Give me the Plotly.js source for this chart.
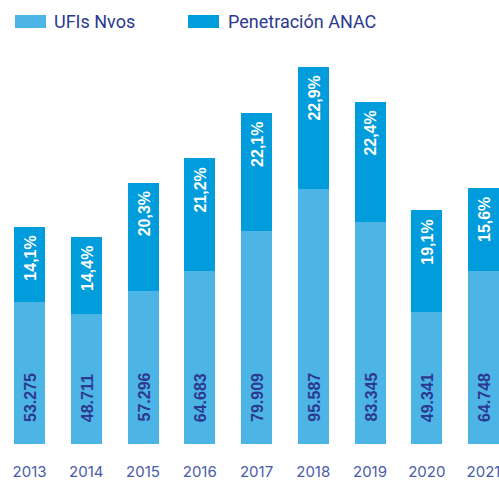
<!DOCTYPE html>
<html>
<head>
<meta charset="utf-8">
<script src="https://cdn.plot.ly/plotly-3.0.1.min.js"></script>
<style>html,body{margin:0;padding:0;background:#fff;}#chart{width:499px;height:481px;}</style>
</head>
<body>
<div id="chart"></div>
<script>
// Data
var years = ["2013","2014","2015","2016","2017","2018","2019","2020","2021"];
var ufisNvos = [53.275, 48.711, 57.296, 64.683, 79.909, 95.587, 83.345, 49.341, 64.748]; // thousands
var ufisLabels = ["53.275","48.711","57.296","64.683","79.909","95.587","83.345","49.341","64.748"];
var penetracion = [14.1, 14.4, 20.3, 21.2, 22.1, 22.9, 22.4, 19.1, 15.6]; // %
var penLabels = ["14,1%","14,4%","20,3%","21,2%","22,1%","22,9%","22,4%","19,1%","15,6%"];

var PCT_SCALE = 2.0; // visual height units per percentage point on the stacked axis
var penHeight = penetracion.map(function(p){ return p * PCT_SCALE; });

var lightBlue = "#4db4e6";
var darkBlue = "#009cdc";
var navy = "#2b3990";

var xs = years.map(function(_, i){ return i; });

var traces = [
  {type:"bar", name:"UFIs Nvos", x: xs, y: ufisNvos, marker:{color: lightBlue}, hoverinfo:"none"},
  {type:"bar", name:"Penetración ANAC", x: xs, y: penHeight, marker:{color: darkBlue}, hoverinfo:"none"}
];

var annotations = [];
xs.forEach(function(x, i){
  annotations.push({x: x, y: 0, xref:"x", yref:"y", text: ufisLabels[i], showarrow:false,
    textangle:-90, xanchor:"center", yanchor:"bottom", yshift: 20, xshift: 1,
    font:{family:"Liberation Sans, Arial, sans-serif", size:16, color: navy, weight:700}});
  annotations.push({x: x, y: ufisNvos[i] + penHeight[i], xref:"x", yref:"y", text: penLabels[i], showarrow:false,
    textangle:-90, xanchor:"center", yanchor:"top", yshift: -7, xshift: 1,
    font:{family:"Liberation Sans, Arial, sans-serif", size:16, color: "#ffffff", weight:700}});
});

// Legend (manual)
function py(p){ return (444 - p) / 384; }
var shapes = [
  {type:"rect", xref:"paper", yref:"paper", x0:15/499, x1:46/499, y0:py(28), y1:py(15), fillcolor: lightBlue, line:{width:0}},
  {type:"rect", xref:"paper", yref:"paper", x0:188/499, x1:219/499, y0:py(28), y1:py(15), fillcolor: darkBlue, line:{width:0}}
];
annotations.push({xref:"paper", yref:"paper", x:52/499, y:py(21), text:"UFIs Nvos", showarrow:false,
  xanchor:"left", yanchor:"middle", font:{family:"Roboto, sans-serif", size:18, color: navy}});
annotations.push({xref:"paper", yref:"paper", x:226/499, y:py(21), text:"Penetración ANAC", showarrow:false,
  xanchor:"left", yanchor:"middle", font:{family:"Roboto, sans-serif", size:18, color: navy}});

var layout = {
  width: 499, height: 481,
  margin: {l:0, r:0, t:60, b:37, pad:0},
  barmode: "stack",
  bargap: 0.454,
  showlegend: false,
  paper_bgcolor: "#ffffff",
  plot_bgcolor: "#ffffff",
  xaxis: {
    range: [-0.52, 8.273],
    tickmode: "array", tickvals: xs, ticktext: years,
    showgrid: false, zeroline: false, showline: false, ticks: "",
    ticklabelstandoff: 17,
    ticklabeloverflow: "allow",
    tickfont: {family: "Inter, sans-serif", size: 15, color: "#4a5ba9"},
    fixedrange: true
  },
  yaxis: {
    range: [0, 143.93],
    visible: false, showgrid: false, zeroline: false, fixedrange: true
  },
  shapes: shapes,
  annotations: annotations
};

Plotly.newPlot("chart", traces, layout, {staticPlot: true, displayModeBar: false});
</script>
</body>
</html>
